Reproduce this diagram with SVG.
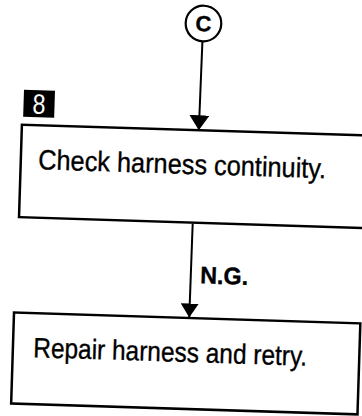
<svg xmlns="http://www.w3.org/2000/svg" width="362" height="416" viewBox="0 0 362 416">
<style>
.box{fill:none;stroke:#000;stroke-width:2.5}
.ln{fill:none;stroke:#000;stroke-width:2}
.t{font-family:"Liberation Sans",Arial,sans-serif;fill:#000;stroke:#000;stroke-width:0.35}
</style>
<defs>
<marker id="ah" markerUnits="userSpaceOnUse" viewBox="0 0 15 20" markerWidth="15" markerHeight="20" refX="15" refY="10" orient="auto">
<path d="M0,0 L15,10 L0,20 z" fill="#000"/>
</marker>
<marker id="ah2" markerUnits="userSpaceOnUse" viewBox="0 0 14 18" markerWidth="14" markerHeight="18" refX="14" refY="9" orient="auto">
<path d="M0,0 L14,9 L0,18 z" fill="#000"/>
</marker>
</defs>
<rect width="362" height="416" fill="#fff"/>
<g transform="rotate(1.8 190 220)">
<g id="connectors">
<line class="ln" x1="196.8" y1="41" x2="196" y2="130" marker-end="url(#ah)"/>
<line class="ln" x1="192.8" y1="223.5" x2="192.3" y2="317.5" marker-end="url(#ah2)"/>
<text class="t" x="202" y="283" font-size="24" font-weight="bold" textLength="48" lengthAdjust="spacingAndGlyphs">N.G.</text>
</g>
<g id="nodeC">
<circle cx="197.3" cy="23.2" r="17.8" fill="#fff" stroke="#000" stroke-width="2.2"/>
<text class="t" x="197.3" y="31" font-size="22" font-weight="bold" text-anchor="middle">C</text>
</g>
<g id="step8label">
<rect x="20" y="95" width="31" height="27" fill="#000"/>
<text x="35.5" y="118.5" font-family="Liberation Sans,Arial,sans-serif" font-size="28" fill="#fff" text-anchor="middle" textLength="13" lengthAdjust="spacingAndGlyphs">8</text>
</g>
<g id="nodeCheck">
<rect class="box" x="19" y="130" width="355" height="92.5"/>
<text class="t" x="36.5" y="174" font-size="28" textLength="288" lengthAdjust="spacingAndGlyphs">Check harness continuity.</text>
</g>
<g id="nodeRepair">
<rect class="box" x="17" y="318" width="346.5" height="91"/>
<text class="t" x="37.4" y="362" font-size="28" textLength="274" lengthAdjust="spacingAndGlyphs">Repair harness and retry.</text>
</g>
</g>
</svg>
